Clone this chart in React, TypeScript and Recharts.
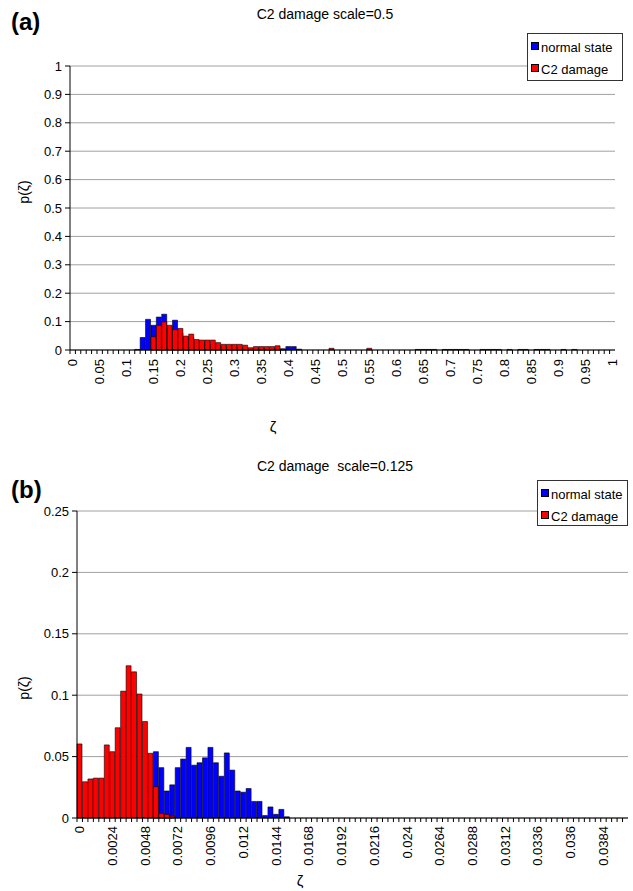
import React from 'react';
import { BarChart, Bar, XAxis, YAxis, CartesianGrid } from 'recharts';

const FONT = '"Liberation Sans", Arial, sans-serif';

// ---------- Chart (a): C2 damage scale=0.5 ----------
const binsA = [
  '0', '0.01', '0.02', '0.03', '0.04', '0.05', '0.06', '0.07', '0.08', '0.09',
  '0.1', '0.11', '0.12', '0.13', '0.14', '0.15', '0.16', '0.17', '0.18', '0.19',
  '0.2', '0.21', '0.22', '0.23', '0.24', '0.25', '0.26', '0.27', '0.28', '0.29',
  '0.3', '0.31', '0.32', '0.33', '0.34', '0.35', '0.36', '0.37', '0.38', '0.39',
  '0.4', '0.41', '0.42', '0.43', '0.44', '0.45', '0.46', '0.47', '0.48', '0.49',
  '0.5', '0.51', '0.52', '0.53', '0.54', '0.55', '0.56', '0.57', '0.58', '0.59',
  '0.6', '0.61', '0.62', '0.63', '0.64', '0.65', '0.66', '0.67', '0.68', '0.69',
  '0.7', '0.71', '0.72', '0.73', '0.74', '0.75', '0.76', '0.77', '0.78', '0.79',
  '0.8', '0.81', '0.82', '0.83', '0.84', '0.85', '0.86', '0.87', '0.88', '0.89',
  '0.9', '0.91', '0.92', '0.93', '0.94', '0.95', '0.96', '0.97', '0.98', '0.99',
  '1',
];

const normalA = [
  0, 0, 0, 0, 0, 0, 0, 0, 0, 0,
  0, 0, 0.002, 0.044, 0.108, 0.087, 0.116, 0.126, 0.08, 0.105,
  0.06, 0.04, 0.045, 0.03, 0.025, 0.02, 0.02, 0.015, 0.012, 0.01,
  0.01, 0.008, 0.008, 0.005, 0.006, 0.006, 0.005, 0.005, 0.006, 0.004,
  0.012, 0.012, 0.003, 0, 0, 0, 0, 0, 0, 0,
  0, 0, 0, 0, 0, 0, 0, 0, 0, 0,
  0, 0, 0, 0, 0.002, 0.002, 0.002, 0.002, 0, 0.002,
  0.002, 0.002, 0.002, 0.002, 0, 0, 0.002, 0.002, 0.002, 0.002,
  0, 0.002, 0, 0.002, 0.002, 0, 0.002, 0.002, 0.002, 0,
  0, 0.002, 0, 0.002, 0, 0, 0, 0, 0, 0,
  0,
];

const damageA = [
  0, 0, 0, 0, 0, 0, 0, 0, 0, 0,
  0, 0, 0, 0, 0, 0.047, 0.087, 0.099, 0.087, 0.072,
  0.076, 0.049, 0.056, 0.037, 0.035, 0.035, 0.035, 0.026, 0.02, 0.02,
  0.02, 0.02, 0.017, 0.008, 0.012, 0.012, 0.012, 0.012, 0.015, 0.003,
  0, 0, 0, 0, 0, 0, 0, 0, 0.006, 0,
  0, 0, 0, 0, 0, 0.006, 0, 0, 0, 0,
  0, 0, 0, 0, 0, 0, 0, 0, 0, 0,
  0, 0, 0, 0, 0, 0, 0, 0, 0, 0,
  0, 0, 0, 0, 0, 0, 0, 0, 0, 0,
  0, 0, 0, 0, 0, 0, 0, 0, 0, 0,
  0,
];

const yTicksA = [0, 0.1, 0.2, 0.3, 0.4, 0.5, 0.6, 0.7, 0.8, 0.9, 1];

// ---------- Chart (b): C2 damage scale=0.125 ----------
const binsB = [
  '0', '0.0004', '0.0008', '0.0012', '0.0016', '0.002', '0.0024', '0.0028', '0.0032', '0.0036',
  '0.004', '0.0044', '0.0048', '0.0052', '0.0056', '0.006', '0.0064', '0.0068', '0.0072', '0.0076',
  '0.008', '0.0084', '0.0088', '0.0092', '0.0096', '0.01', '0.0104', '0.0108', '0.0112', '0.0116',
  '0.012', '0.0124', '0.0128', '0.0132', '0.0136', '0.014', '0.0144', '0.0148', '0.0152', '0.0156',
  '0.016', '0.0164', '0.0168', '0.0172', '0.0176', '0.018', '0.0184', '0.0188', '0.0192', '0.0196',
  '0.02', '0.0204', '0.0208', '0.0212', '0.0216', '0.022', '0.0224', '0.0228', '0.0232', '0.0236',
  '0.024', '0.0244', '0.0248', '0.0252', '0.0256', '0.026', '0.0264', '0.0268', '0.0272', '0.0276',
  '0.028', '0.0284', '0.0288', '0.0292', '0.0296', '0.03', '0.0304', '0.0308', '0.0312', '0.0316',
  '0.032', '0.0324', '0.0328', '0.0332', '0.0336', '0.034', '0.0344', '0.0348', '0.0352', '0.0356',
  '0.036', '0.0364', '0.0368', '0.0372', '0.0376', '0.038', '0.0384', '0.0388', '0.0392', '0.0396',
  '0.04',
];

const normalB = [
  0, 0, 0, 0, 0, 0, 0, 0, 0, 0,
  0, 0, 0, 0, 0.054, 0.041, 0.022, 0.027, 0.041, 0.048,
  0.0575, 0.043, 0.045, 0.049, 0.0575, 0.045, 0.034, 0.053, 0.039, 0.022,
  0.021, 0.024, 0.0135, 0.0135, 0.002, 0.009, 0.003, 0.007, 0.001, 0,
  0, 0, 0, 0, 0, 0, 0, 0, 0, 0,
  0, 0, 0, 0, 0, 0, 0, 0, 0, 0,
  0, 0, 0, 0, 0, 0, 0, 0, 0, 0,
  0, 0, 0, 0, 0, 0, 0, 0, 0, 0,
  0, 0, 0, 0, 0, 0, 0, 0, 0, 0,
  0, 0, 0, 0, 0, 0, 0, 0, 0, 0,
  0,
];

const damageB = [
  0.0603, 0.0295, 0.0318, 0.0325, 0.0325, 0.0595, 0.054, 0.0735, 0.1033, 0.124,
  0.119, 0.101, 0.0786, 0.0527, 0.0255, 0.0038, 0.003, 0.0015, 0, 0,
  0, 0, 0, 0, 0, 0, 0, 0, 0, 0,
  0, 0, 0, 0, 0, 0, 0, 0, 0, 0,
  0, 0, 0, 0, 0, 0, 0, 0, 0, 0,
  0, 0, 0, 0, 0, 0, 0, 0, 0, 0,
  0, 0, 0, 0, 0, 0, 0, 0, 0, 0,
  0, 0, 0, 0, 0, 0, 0, 0, 0, 0,
  0, 0, 0, 0, 0, 0, 0, 0, 0, 0,
  0, 0, 0, 0, 0, 0, 0, 0, 0, 0,
  0,
];

const yTicksB = [0, 0.05, 0.1, 0.15, 0.2, 0.25];

const seriesNames = ['normal state', 'C2 damage'];
const seriesColors = ['#0000ff', '#ff0000'];

const dataA = binsA.map((bin, i) => ({ bin, normal: normalA[i], damage: damageA[i] }));
const dataB = binsB.map((bin, i) => ({ bin, normal: normalB[i], damage: damageB[i] }));

function XTick(props: any) {
  const { x, y, payload, index, every, gap } = props;
  const off = payload && typeof payload.offset === 'number' ? payload.offset : 0;
  const show = index % every === 0;
  const ty = y + gap;
  return (
    <g>
      <line x1={x - off} x2={x - off} y1={y} y2={y + 4} stroke="#000" strokeWidth={1} />
      {show && (
        <text
          x={x}
          y={ty}
          transform={`rotate(-90, ${x}, ${ty})`}
          textAnchor="end"
          dominantBaseline="central"
          fontSize={13}
          fontFamily={FONT}
          fill="#000"
        >
          {payload.value}
        </text>
      )}
    </g>
  );
}

function Panel(props: {
  data: any[];
  yTicks: number[];
  yMax: number;
  every: number;
  gap: number;
  yWidth: number;
  right: number;
  height: number;
  bottom: number;
}) {
  const { data, yTicks, yMax, every, gap, yWidth, right, height, bottom } = props;
  return (
    <BarChart
      width={633}
      height={height}
      data={data}
      margin={{ top: 66, right, bottom, left: 0 }}
      barCategoryGap={0}
      barGap={0}
    >
      <CartesianGrid vertical={false} stroke="#a0a0a0" strokeWidth={1} />
      <XAxis
        dataKey="bin"
        interval={0}
        tickLine={false}
        tickSize={0}
        tickMargin={0}
        axisLine={{ stroke: '#000', strokeWidth: 1 }}
        height={60}
        tick={<XTick every={every} gap={gap} />}
      />
      <XAxis xAxisId="over" dataKey="bin" hide />
      <YAxis
        type="number"
        domain={[0, yMax]}
        ticks={yTicks}
        interval={0}
        width={yWidth}
        tickSize={5}
        tickMargin={3}
        tickLine={{ stroke: '#000' }}
        axisLine={{ stroke: '#000', strokeWidth: 1 }}
        tick={{ fontSize: 13, fill: '#000', fontFamily: FONT }}
      />
      <Bar dataKey="normal" fill={seriesColors[0]} stroke="#000" strokeWidth={0.6} isAnimationActive={false} />
      <Bar dataKey="damage" xAxisId="over" fill={seriesColors[1]} stroke="#000" strokeWidth={0.6} isAnimationActive={false} />
    </BarChart>
  );
}

function LegendBox(props: { left: number; top: number; width: number; height: number }) {
  const { left, top, width, height } = props;
  return (
    <div
      style={{
        position: 'absolute',
        left,
        top,
        width,
        height,
        border: '1px solid #333',
        background: '#fff',
        boxSizing: 'border-box',
        fontFamily: FONT,
        fontSize: 13,
        color: '#000',
      }}
    >
      {seriesNames.map((name, i) => (
        <div
          key={name}
          style={{ position: 'absolute', left: 3, top: 6 + i * 22, height: 16, lineHeight: '16px', whiteSpace: 'nowrap' }}
        >
          <span
            style={{
              display: 'inline-block',
              width: 6,
              height: 6,
              background: seriesColors[i],
              border: '0.5px solid #000',
              marginRight: 2,
              verticalAlign: 'top',
              marginTop: 2,
            }}
          />
          {name}
        </div>
      ))}
    </div>
  );
}

export default function App() {
  return (
    <div style={{ position: 'absolute', left: 0, top: 0, width: 633, height: 891, background: '#fff', overflow: 'hidden' }}>
      {/* Panel (a) */}
      <div style={{ position: 'absolute', left: 0, top: 0 }}>
        <Panel data={dataA} yTicks={yTicksA} yMax={1} every={5} gap={9} yWidth={70} right={18} height={445} bottom={35} />
      </div>
      {/* Panel (b) */}
      <div style={{ position: 'absolute', left: 0, top: 445 }}>
        <Panel data={dataB} yTicks={yTicksB} yMax={0.25} every={6} gap={8} yWidth={77} right={5} height={446} bottom={13} />
      </div>

      <div style={{ position: 'absolute', left: 11, top: 8, fontFamily: FONT, fontWeight: 'bold', fontSize: 24 }}>(a)</div>
      <div style={{ position: 'absolute', left: 11, top: 476, fontFamily: FONT, fontWeight: 'bold', fontSize: 24 }}>(b)</div>

      <div style={{ position: 'absolute', left: 175, width: 300, top: 6, textAlign: 'center', fontFamily: FONT, fontSize: 14 }}>
        C2 damage scale=0.5
      </div>
      <div style={{ position: 'absolute', left: 185, width: 300, top: 458, textAlign: 'center', fontFamily: FONT, fontSize: 14, whiteSpace: 'pre' }}>
        {'C2 damage  scale=0.125'}
      </div>

      <LegendBox left={527} top={33} width={96} height={48} />
      <LegendBox left={537} top={480} width={91} height={46} />

      <svg width={633} height={891} style={{ position: 'absolute', left: 0, top: 0, pointerEvents: 'none' }}>
        <text x={24} y={192} transform="rotate(-90, 24, 192)" textAnchor="middle" dominantBaseline="central" fontSize={14} fontFamily={FONT}>
          p(ζ)
        </text>
        <text x={24} y={688} transform="rotate(-90, 24, 688)" textAnchor="middle" dominantBaseline="central" fontSize={14} fontFamily={FONT}>
          p(ζ)
        </text>
        <text x={273} y={426} textAnchor="middle" dominantBaseline="central" fontSize={15} fontFamily={FONT}>
          ζ
        </text>
        <text x={300} y={880} textAnchor="middle" dominantBaseline="central" fontSize={15} fontFamily={FONT}>
          ζ
        </text>
      </svg>
    </div>
  );
}
